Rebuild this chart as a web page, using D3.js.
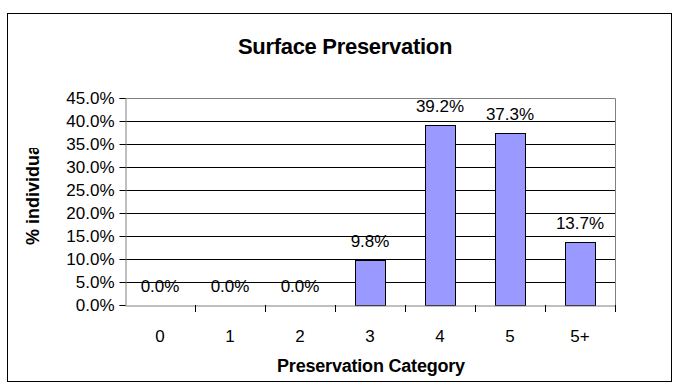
<!DOCTYPE html>
<html>
<head>
<meta charset="utf-8">
<script src="https://cdn.jsdelivr.net/npm/d3@7"></script>
<style>
  body { margin: 0; background: #fff; }
  text { font-family: "Liberation Sans", Arial, sans-serif; fill: #000; }
</style>
</head>
<body>
<svg id="chart" width="678" height="389"></svg>
<script>
// categories and values
let categories = ["0", "1", "2", "3", "4", "5", "5+"];
let values = [0.0, 0.0, 0.0, 9.8, 39.2, 37.3, 13.7];
let y_ticks = [0, 5, 10, 15, 20, 25, 30, 35, 40, 45];

let svg = d3.select("#chart");
let plot_left = 125, plot_right = 615, plot_top = 98, plot_bottom = 305;

// outer chart border
svg.append("rect")
  .attr("x", 7.5).attr("y", 13.5)
  .attr("width", 664).attr("height", 368)
  .attr("fill", "#fff").attr("stroke", "#000");

let x = d3.scaleBand().domain(categories).range([plot_left, plot_right]).paddingInner(0.57).paddingOuter(0.285);
let xb = d3.scaleBand().domain(categories).range([plot_left, plot_right]);
let y = d3.scaleLinear().domain([0, 45]).range([plot_bottom, plot_top]);

// gridlines
svg.append("g")
  .selectAll("line")
  .data(y_ticks.slice(1, -1))
  .join("line")
  .attr("x1", plot_left).attr("x2", plot_right)
  .attr("y1", d => Math.round(y(d)) + 0.5)
  .attr("y2", d => Math.round(y(d)) + 0.5)
  .attr("stroke", "#000");

// plot border (top + right grey)
svg.append("path")
  .attr("d", `M${plot_left},${plot_top + 0.5}H${plot_right + 0.5}V${plot_bottom}`)
  .attr("fill", "none").attr("stroke", "#808080");

// bars
svg.append("g")
  .selectAll("rect")
  .data(values)
  .join("rect")
  .attr("x", (d, i) => Math.round(x(categories[i])) + 0.5)
  .attr("y", d => Math.round(y(d)) + 0.5)
  .attr("width", Math.round(x.bandwidth()))
  .attr("height", d => Math.round(y(0)) - Math.round(y(d)))
  .attr("fill", "#9999ff")
  .attr("stroke", "#000");

// y axis
let yAxis = svg.append("g")
  .attr("transform", `translate(${plot_left + 0.5},0)`)
  .call(d3.axisLeft(y).tickValues(y_ticks).tickSize(6).tickPadding(5)
    .tickFormat(d => d.toFixed(1) + "%"));
yAxis.select(".domain").attr("stroke", "#808080");
yAxis.selectAll(".tick line").attr("stroke", "#000");
yAxis.selectAll("text")
  .style("font-size", "17px")
  .style("font-family", "'Liberation Sans', Arial, sans-serif")
  .attr("fill", "#000");

// x axis, ticks sit on the category boundaries
let xAxis = svg.append("g")
  .attr("transform", `translate(0,${plot_bottom + 0.5})`)
  .call(d3.axisBottom(xb).tickSize(0).tickPadding(24));
xAxis.select(".domain").attr("stroke", "#808080");
xAxis.selectAll("text")
  .style("font-size", "17px")
  .style("font-family", "'Liberation Sans', Arial, sans-serif")
  .attr("fill", "#000");
svg.append("g")
  .selectAll("line")
  .data(categories)
  .join("line")
  .attr("x1", (d, i) => Math.round(plot_left + xb.step() * (i + 1)) + 0.5)
  .attr("x2", (d, i) => Math.round(plot_left + xb.step() * (i + 1)) + 0.5)
  .attr("y1", plot_bottom).attr("y2", plot_bottom + 7)
  .attr("stroke", "#000");

// data labels
svg.append("g")
  .selectAll("text")
  .data(values)
  .join("text")
  .attr("x", (d, i) => xb(categories[i]) + xb.bandwidth() / 2)
  .attr("y", d => y(d) - 13)
  .attr("text-anchor", "middle")
  .style("font-size", "17px")
  .text(d => d.toFixed(1) + "%");

// titles
svg.append("text")
  .attr("x", 345).attr("y", 54)
  .attr("text-anchor", "middle")
  .style("font-size", "22px").style("font-weight", "bold")
  .style("letter-spacing", "-0.3px")
  .text("Surface Preservation");

svg.append("text")
  .attr("x", 371).attr("y", 372)
  .attr("text-anchor", "middle")
  .style("font-size", "18px").style("font-weight", "bold")
  .style("letter-spacing", "-0.2px")
  .text("Preservation Category");

// y title is cut off at the top in the original
svg.append("clipPath").attr("id", "yclip")
  .append("rect").attr("x", 0).attr("y", 148).attr("width", 60).attr("height", 120);
svg.append("g")
  .attr("clip-path", "url(#yclip)")
  .append("text")
  .attr("transform", "translate(39,245) rotate(-90)")
  .attr("text-anchor", "start")
  .style("font-size", "18px").style("font-weight", "bold")
  .text("% individuals");
</script>
</body>
</html>
